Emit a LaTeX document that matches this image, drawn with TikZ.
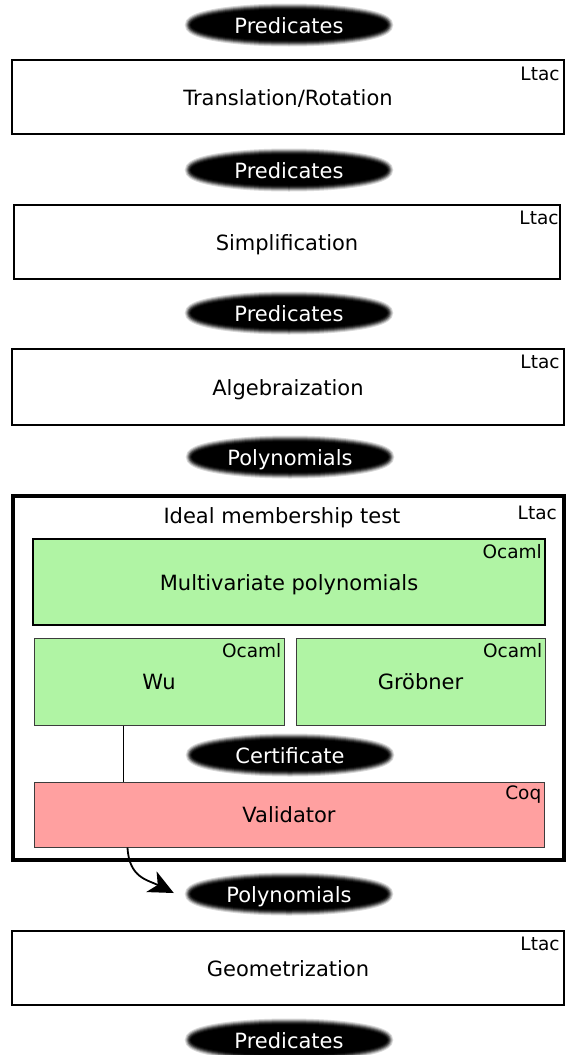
\documentclass[tikz,border=0pt]{standalone}
\usepackage{fontspec}
\setmainfont{DejaVu Sans}
\usetikzlibrary{shapes.geometric,arrows.meta,calc}
\definecolor{boxgreen}{RGB}{176,244,164}
\definecolor{boxpink}{RGB}{255,160,160}
\definecolor{thinborder}{RGB}{60,60,60}
\begin{document}
\begin{tikzpicture}[x=1pt,y=-1pt,
  mainfont/.style={font=\fontsize{21}{25}\selectfont, text height=16pt, text depth=0pt},
  blob/.style={ellipse, fill=black, text=white, minimum width=196pt, minimum height=31pt,
    inner sep=0pt, mainfont,
    preaction={draw=black, draw opacity=0.15, line width=12pt},
    preaction={draw=black, draw opacity=0.2, line width=10pt},
    preaction={draw=black, draw opacity=0.3, line width=8pt},
    preaction={draw=black, draw opacity=0.4, line width=6pt},
    preaction={draw=black, draw opacity=0.5, line width=4pt},
    preaction={draw=black, draw opacity=0.7, line width=2pt}},
  stagebox/.style={draw=black, line width=1.5pt, rectangle, inner sep=0pt, mainfont, fill=white},
  outerbox/.style={draw=black, line width=4pt, rectangle, inner sep=0pt},
  greenbox/.style={draw=black, line width=2pt, fill=boxgreen, rectangle, inner sep=0pt, mainfont},
  subbox/.style={draw=thinborder, line width=1pt, fill=boxgreen, rectangle, inner sep=0pt, mainfont},
  pinkbox/.style={draw=thinborder, line width=1pt, fill=boxpink, rectangle, inner sep=0pt, mainfont},
  tag/.style={font=\fontsize{18.5}{22}\selectfont, inner sep=0pt, anchor=base east},
  link/.style={draw=black, line width=1.8pt},
  flow/.style={draw=black, line width=1.8pt, -{Stealth[length=25pt, width=23pt, inset=7pt]}}
]
\useasboundingbox (0,0) rectangle (566,1055);

% ellipses
\node[blob] (p1) at (289,25) {Predicates};
\node[blob] (p2) at (289,170) {Predicates};
\node[blob] (p3) at (289,313) {Predicates};
\node[blob] (p4) at (290,457) {Polynomials};
\node[blob] (p5) at (289,894) {Polynomials};
\node[blob] (p6) at (289,1040) {Predicates};

% stage boxes
\node[stagebox, minimum width=552pt, minimum height=74pt] (b1) at (288,97) {Translation/Rotation};
\node[tag] (t1) at ($(b1.north east)+(-5,21)$) {Ltac};
\node[stagebox, minimum width=546pt, minimum height=74pt] (b2) at (287,242) {Simplification};
\node[tag] (t2) at ($(b2.north east)+(-2,20)$) {Ltac};
\node[stagebox, minimum width=552pt, minimum height=76pt] (b3) at (288,387) {Algebraization};
\node[tag] (t3) at ($(b3.north east)+(-5,20)$) {Ltac};
\node[stagebox, minimum width=552pt, minimum height=74pt] (b5) at (288,968) {Geometrization};
\node[tag] (t5) at ($(b5.north east)+(-5,20)$) {Ltac};

% ideal membership test
\node[outerbox, minimum width=551pt, minimum height=364pt] (ideal) at (288.5,678) {};
\node[font=\fontsize{21}{25}\selectfont, inner sep=0pt, anchor=base] (idealtxt) at (282,523) {Ideal membership test};
\node[tag] (t4) at (557,519) {Ltac};

\node[greenbox, minimum width=512pt, minimum height=86pt] (mv) at (289,582) {Multivariate polynomials};
\node[tag] (tmv) at ($(mv.north east)+(-4,20)$) {Ocaml};

\node[subbox, minimum width=250pt, minimum height=87pt] (wu) at (159,681.5) {Wu};
\node[tag] (twu) at ($(wu.north east)+(-3,20)$) {Ocaml};
\node[subbox, minimum width=249pt, minimum height=87pt] (gr) at (420.5,681.5) {Gröbner};
\node[tag] (tgr) at ($(gr.north east)+(-3,20)$) {Ocaml};

\node[blob] (cert) at (290,755) {Certificate};

\node[pinkbox, minimum width=510pt, minimum height=65pt] (val) at (289,814.5) {Validator};
\node[tag] (tval) at ($(val.north east)+(-3,18)$) {Coq};

% connectors
\coordinate (wub) at ($(wu.south west)+(90,0)$);
\coordinate (valt) at (wub |- val.north);
\draw[link] (wub) -- (valt);
\coordinate (valb) at ($(val.south west)+(94,0)$);
\coordinate (tip) at ($(p5.west)+(-17,-1)$);
\draw[flow] (valb) .. controls (129,878) and (148,880) .. (tip);
\end{tikzpicture}
\end{document}
